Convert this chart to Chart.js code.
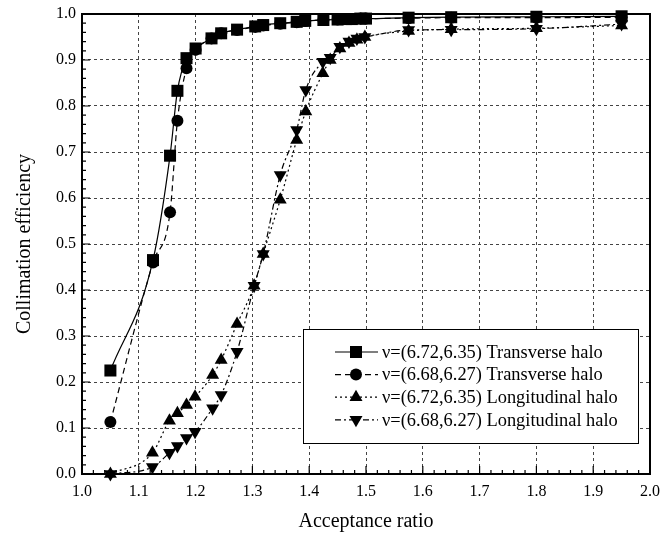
<!DOCTYPE html>
<html>
<head>
<meta charset="utf-8">
<script src="https://cdn.jsdelivr.net/npm/chart.js@4/dist/chart.umd.min.js"></script>
<style>
    body { margin: 0; background: #fff; }
</style>
</head>
<body>
<canvas id="myChart" width="660" height="536"></canvas>
<script>
// acceptance ratio samples
const xTrans = [1.05, 1.125, 1.155, 1.168, 1.184, 1.2, 1.228, 1.245, 1.273, 1.305, 1.319, 1.349, 1.378, 1.393, 1.425, 1.45, 1.465, 1.475, 1.49, 1.5, 1.575, 1.65, 1.8, 1.95];
const xLong = [1.05, 1.124, 1.154, 1.168, 1.184, 1.199, 1.23, 1.245, 1.273, 1.303, 1.319, 1.349, 1.378, 1.394, 1.424, 1.437, 1.454, 1.47, 1.484, 1.498, 1.575, 1.65, 1.8, 1.95];

// collimation efficiency
const transA = [0.225, 0.465, 0.692, 0.833, 0.904, 0.925, 0.947, 0.958, 0.966, 0.973, 0.976, 0.980, 0.983, 0.985, 0.987, 0.988, 0.989, 0.989, 0.990, 0.990, 0.992, 0.993, 0.994, 0.995];
const transB = [0.113, 0.460, 0.569, 0.768, 0.882, 0.922, 0.947, 0.958, 0.965, 0.972, 0.975, 0.979, 0.982, 0.985, 0.987, 0.988, 0.989, 0.989, 0.990, 0.990, 0.991, 0.992, 0.992, 0.993];
const longA = [0.0, 0.046, 0.116, 0.132, 0.150, 0.168, 0.215, 0.248, 0.326, 0.409, 0.478, 0.596, 0.726, 0.788, 0.871, 0.900, 0.925, 0.937, 0.944, 0.950, 0.963, 0.967, 0.969, 0.975];
const longB = [0.0, 0.015, 0.046, 0.061, 0.078, 0.092, 0.143, 0.172, 0.266, 0.409, 0.478, 0.650, 0.748, 0.835, 0.896, 0.905, 0.929, 0.940, 0.947, 0.950, 0.965, 0.966, 0.968, 0.978];

const seriesLabels = [
    'ν=(6.72,6.35) Transverse halo',
    'ν=(6.68,6.27) Transverse halo',
    'ν=(6.72,6.35) Longitudinal halo',
    'ν=(6.68,6.27) Longitudinal halo'
];

const xTicks = [1.0, 1.1, 1.2, 1.3, 1.4, 1.5, 1.6, 1.7, 1.8, 1.9, 2.0];
const yTicks = [0.0, 0.1, 0.2, 0.3, 0.4, 0.5, 0.6, 0.7, 0.8, 0.9, 1.0];

const serif = "'Liberation Serif', 'DejaVu Serif', serif";

function pts(xs, ys) {
    return xs.map((x, i) => ({ x: x, y: ys[i] }));
}

function series(label, xs, ys, style, radius, rotation, dash) {
    return {
        label: label,
        data: pts(xs, ys),
        borderColor: '#000',
        backgroundColor: '#000',
        borderWidth: 1.2,
        borderDash: dash,
        pointStyle: style,
        pointRadius: radius,
        pointRotation: rotation,
        pointBorderWidth: 0,
        pointBackgroundColor: '#000',
        cubicInterpolationMode: 'monotone',
        clip: false
    };
}

// frame + inward ticks (major every 0.1, minor every 0.02)
const frameTicks = {
    id: 'frameTicks',
    beforeDatasetsDraw(chart) {
        const c = chart.ctx;
        const a = chart.chartArea;
        const xs = chart.scales.x;
        const ys = chart.scales.y;
        c.save();
        c.strokeStyle = '#000';
        c.lineWidth = 1.2;
        c.beginPath();
        for (let i = 0; i <= 50; i++) {
            const len = i % 5 === 0 ? 8 : 4;
            const px = xs.getPixelForValue(xs.min + i * 0.02);
            c.moveTo(px, a.bottom);
            c.lineTo(px, a.bottom - len);
            const py = ys.getPixelForValue(ys.min + i * 0.02);
            c.moveTo(a.left, py);
            c.lineTo(a.left + len, py);
        }
        c.stroke();
        c.lineWidth = 2;
        c.strokeRect(a.left, a.top, a.right - a.left, a.bottom - a.top);
        c.restore();
    }
};

// legend box inside the plot, lower right
const boxLegend = {
    id: 'boxLegend',
    afterDatasetsDraw(chart) {
        const c = chart.ctx;
        const a = chart.chartArea;
        const w = 335, h = 114;
        const left = a.right - 12 - w;
        const top = a.bottom - 31 - h;
        c.save();
        c.fillStyle = '#fff';
        c.fillRect(left, top, w, h);
        c.strokeStyle = '#000';
        c.lineWidth = 1;
        c.strokeRect(left + 0.5, top + 0.5, w, h);
        chart.data.datasets.forEach((ds, i) => {
            const y = top + 23 + i * 22.6;
            c.strokeStyle = '#000';
            c.lineWidth = ds.borderWidth;
            c.setLineDash(ds.borderDash || []);
            c.beginPath();
            c.moveTo(left + 32, y);
            c.lineTo(left + 75, y);
            c.stroke();
            c.setLineDash([]);
            c.fillStyle = '#000';
            Chart.helpers.drawPoint(c, {
                pointStyle: ds.pointStyle,
                radius: ds.pointRadius,
                rotation: ds.pointRotation,
                borderWidth: 0
            }, left + 53, y);
            c.fillStyle = '#000';
            c.font = "18.4px " + serif;
            c.textBaseline = 'middle';
            c.textAlign = 'left';
            c.fillText(ds.label, left + 79, y + 1);
        });
        c.restore();
    }
};

const ctx = document.getElementById('myChart').getContext('2d');
const chart = new Chart(ctx, {
    type: 'line',
    data: {
        datasets: [
            series(seriesLabels[0], xTrans, transA, 'rect', 8.5, 0, []),
            series(seriesLabels[1], xTrans, transB, 'circle', 6, 0, [6, 4]),
            series(seriesLabels[2], xLong, longA, 'triangle', 7.5, 0, [2, 3]),
            series(seriesLabels[3], xLong, longB, 'triangle', 7.5, 180, [6, 3, 2, 3])
        ]
    },
    options: {
        responsive: false,
        animation: false,
        layout: {
            padding: { top: 14, right: 10, left: 0, bottom: 0 }
        },
        plugins: {
            legend: { display: false },
            tooltip: { enabled: false }
        },
        scales: {
            x: {
                type: 'linear',
                min: 1.0,
                max: 2.0,
                afterFit(scale) {
                    scale.height = 62;
                    scale.paddingLeft = 0;
                    scale.paddingRight = 0;
                },
                afterBuildTicks(scale) { scale.ticks = xTicks.map(v => ({ value: v })); },
                ticks: {
                    color: '#000',
                    padding: 8,
                    maxRotation: 0,
                    autoSkip: false,
                    font: { family: serif, size: 16 },
                    callback: v => Number(v).toFixed(1)
                },
                grid: { color: '#444', lineWidth: 1, drawTicks: false },
                border: { display: false, dash: [3, 3] },
                title: {
                    display: true,
                    text: 'Acceptance ratio',
                    color: '#000',
                    font: { family: serif, size: 20 },
                    padding: { top: 2, bottom: 2 }
                }
            },
            y: {
                min: 0,
                max: 1,
                afterFit(scale) {
                    scale.width = 82;
                    scale.paddingTop = 0;
                    scale.paddingBottom = 0;
                },
                afterBuildTicks(scale) { scale.ticks = yTicks.map(v => ({ value: v })); },
                ticks: {
                    color: '#000',
                    padding: 6,
                    autoSkip: false,
                    font: { family: serif, size: 16 },
                    callback: v => Number(v).toFixed(1)
                },
                grid: { color: '#444', lineWidth: 1, drawTicks: false },
                border: { display: false, dash: [3, 3] },
                title: {
                    display: true,
                    text: 'Collimation efficiency',
                    color: '#000',
                    font: { family: serif, size: 20 },
                    padding: { top: 13, bottom: 13 }
                }
            }
        }
    },
    plugins: [frameTicks, boxLegend]
});
</script>
</body>
</html>
